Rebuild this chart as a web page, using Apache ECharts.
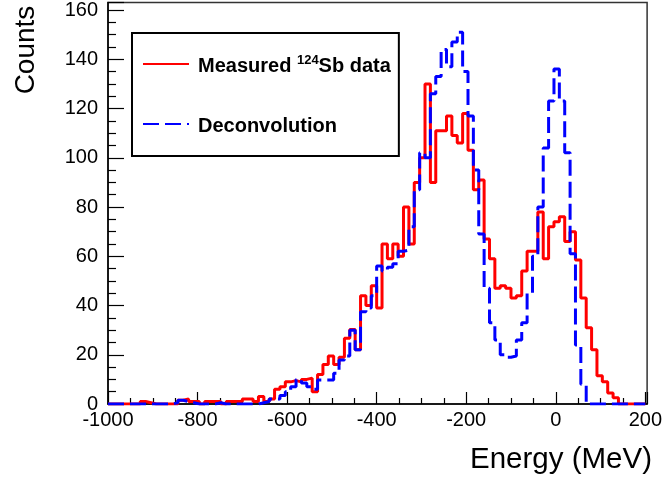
<!DOCTYPE html>
<html>
<head>
<meta charset="utf-8">
<script src="https://cdn.jsdelivr.net/npm/echarts@6/dist/echarts.min.js"></script>
<style>
html,body{margin:0;padding:0;background:#fff;}
#chart{width:665px;height:479px;}
</style>
</head>
<body>
<div id="chart"></div>
<script>
// Histogram binning (MeV)
var binStart = -1000;
var binWidth = 12;

// Measured 124Sb data (counts per bin), 100 bins
var measured = [
  0,0,0,0,0,0,1,0.5,0,0,
  0,0,0,1.5,2,1,1,0,1,1,
  1,0,1,1,1,2,2,1,3,1,
  2,6,7,9,9.5,9,10,10.5,5,12,
  16,19.5,16,19,26.7,30.3,22,44,40,48,
  39,65,59,65,60,80,65,90,100,130,
  90,111,111,117,109,106,118,103,87,91,
  67,59,47,48,47,43,44,54,62,62,
  78,59,72,74,76,66,70,58.5,43,31,
  22,11.5,9,4.5,2.5,0,0,0,0,0
];

// Deconvolution result (counts per bin), 100 bins
var deconv = [
  0,0,0,0,0,0,0,0,0,0,
  0,0,0.5,1.5,1,0.5,0,0,0,0,
  0.5,0,0,0,0,0,0,0,0.5,1,
  2,2,3.5,5,7,10,8.5,7,6,9.7,
  9.7,9.7,12.5,17.9,19.5,30,22,37.5,39,44,
  56,54,55.5,57,62,62.5,72,87,102,100,
  126,133,144,137,147,151,135,117,95,69,
  47,33,26,20,19,19.5,26,33,45,60,
  80,104,123,136,123,102,61,24,8,0,
  0,0,0,0,0,0,0,0,0,0
];

var seriesNames = ['Measured', 'Deconvolution'];

function stepData(vals) {
  var out = [];
  for (var i = 0; i < vals.length; i++) out.push([binStart + i * binWidth, vals[i]]);
  out.push([binStart + vals.length * binWidth, vals[vals.length - 1]]);
  return out;
}

var FONT = 'Liberation Sans, Arial, Helvetica, sans-serif';
var chart = echarts.init(document.getElementById('chart'), null, {renderer: 'canvas'});

chart.setOption({
  backgroundColor: '#ffffff',
  animation: false,
  grid: {
    left: 108, right: 14, top: 2, bottom: 75,
    show: true, borderColor: '#333', borderWidth: 1.5, backgroundColor: 'transparent'
  },
  xAxis: {
    type: 'value', min: -1000, max: 204, interval: 200,
    axisLine: {show: true, onZero: false, lineStyle: {color: '#000', width: 1.5}},
    axisTick: {show: true, inside: true, length: 12, lineStyle: {color: '#000', width: 1.2}},
    minorTick: {show: true, splitNumber: 4, length: 6, lineStyle: {color: '#000', width: 1.2}},
    splitLine: {show: false},
    axisLabel: {show: true, showMaxLabel: false, color: '#000', fontSize: 20, fontFamily: FONT, margin: 6,
      formatter: function (v) { return String(v); }}
  },
  yAxis: {
    type: 'value', min: 0, max: 163, interval: 20,
    axisLine: {show: true, onZero: false, lineStyle: {color: '#000', width: 1.5}},
    axisTick: {show: true, inside: true, length: 16, lineStyle: {color: '#000', width: 1.2}},
    minorTick: {show: true, splitNumber: 4, length: 8, lineStyle: {color: '#000', width: 1.2}},
    splitLine: {show: false},
    axisLabel: {show: true, showMaxLabel: false, color: '#000', fontSize: 20, fontFamily: FONT, margin: 10,
      formatter: function (v) { return String(v); }}
  },
  legend: {
    orient: 'vertical',
    left: 132, top: 33,
    padding: [21, 8, 20, 10],
    itemGap: 40,
    itemWidth: 46, itemHeight: 14,
    borderColor: '#000', borderWidth: 2,
    backgroundColor: '#fff',
    itemStyle: {opacity: 0},
    data: seriesNames,
    formatter: function (name) {
      if (name === 'Measured') return '{b0|Measured }{sup|124}{b|Sb data}';
      return '{b0|' + name + '}';
    },
    textStyle: {
      color: '#000', fontFamily: FONT, fontWeight: 'bold', fontSize: 20,
      rich: {
        b0: {fontFamily: FONT, fontWeight: 'bold', fontSize: 20, color: '#000', lineHeight: 24, verticalAlign: 'bottom', padding: [0, 0, 0, 4]},
        b: {fontFamily: FONT, fontWeight: 'bold', fontSize: 20, color: '#000', lineHeight: 24, verticalAlign: 'bottom'},
        sup: {fontFamily: FONT, fontWeight: 'bold', fontSize: 13, color: '#000', lineHeight: 24, verticalAlign: 'bottom', padding: [0, 0, 9, 0]}
      }
    }
  },
  graphic: [
    {type: 'text', right: 13, top: 445, style: {text: 'Energy (MeV)', font: '29.5px ' + FONT, fill: '#000'}},
    {type: 'text', x: 26, y: 50, rotation: Math.PI / 2,
     style: {text: 'Counts', font: '28px ' + FONT, fill: '#000', align: 'center', verticalAlign: 'middle'}}
  ],
  series: [
    {
      name: seriesNames[0], type: 'line', step: 'end', symbol: 'none', showSymbol: false,
      data: stepData(measured),
      lineStyle: {color: '#ff0000', width: 3},
      itemStyle: {color: '#ff0000'},
      z: 2
    },
    {
      name: seriesNames[1], type: 'line', step: 'end', symbol: 'none', showSymbol: false,
      data: stepData(deconv),
      lineStyle: {color: '#0000ff', width: 3, type: [16, 6]},
      itemStyle: {color: '#0000ff'},
      z: 3
    }
  ]
});
</script>
</body>
</html>
